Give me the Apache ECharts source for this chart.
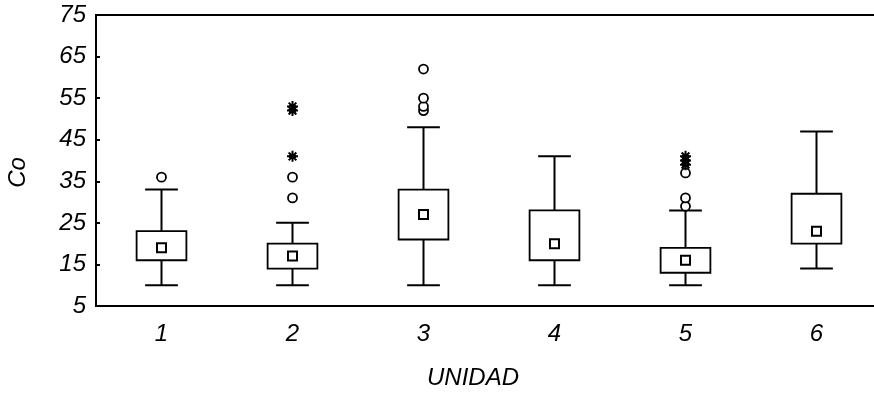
<!DOCTYPE html>
<html>
<head>
<meta charset="utf-8">
<script src="https://cdn.jsdelivr.net/npm/echarts@6/dist/echarts.min.js"></script>
<style>
html,body{margin:0;padding:0;background:#fff;overflow:hidden;}
#chart{width:874px;height:394px;}
</style>
</head>
<body>
<div id="chart"></div>
<script>
// ---- data ----
var categories = ['1', '2', '3', '4', '5', '6'];
var whiskerLow  = [10, 10, 10, 10, 10, 14];
var q1          = [16, 14, 21, 16, 13, 20];
var median      = [19, 17, 27, 20, 16, 23];
var q3          = [23, 20, 33, 28, 19, 32];
var whiskerHigh = [33, 25, 48, 41, 28, 47];
// outliers (circles): [category index, value]
var outliers = [[0, 36], [1, 31], [1, 36], [2, 52], [2, 53], [2, 55], [2, 62], [4, 29], [4, 31], [4, 37]];
// extremes (asterisks): [category index, value]
var extremes = [[1, 41], [1, 52], [1, 53], [4, 39], [4, 40], [4, 41]];
var yTicks = [5, 15, 25, 35, 45, 55, 65, 75];

var FONT = "'Liberation Sans', Arial, sans-serif";

var boxData = categories.map(function (c, i) {
  return [i, whiskerLow[i], q1[i], median[i], q3[i], whiskerHigh[i]];
});
var medianData = categories.map(function (c, i) { return [i, median[i]]; });

function renderBox(params, api) {
  var x = api.value(0);
  var pLow = api.coord([x, api.value(1)]);
  var pQ1 = api.coord([x, api.value(2)]);
  var pQ3 = api.coord([x, api.value(4)]);
  var pHigh = api.coord([x, api.value(5)]);
  var band = api.size([1, 0])[0];
  var bw = band * 0.38;
  var cw = band * 0.25;
  var cx = pQ1[0];
  var ls = {stroke: '#000', lineWidth: 2, fill: null};
  return {
    type: 'group',
    children: [
      {type: 'line', shape: {x1: cx, y1: pLow[1], x2: cx, y2: pQ1[1]}, style: ls},
      {type: 'line', shape: {x1: cx, y1: pQ3[1], x2: cx, y2: pHigh[1]}, style: ls},
      {type: 'line', shape: {x1: cx - cw / 2, y1: pLow[1], x2: cx + cw / 2, y2: pLow[1]}, style: ls},
      {type: 'line', shape: {x1: cx - cw / 2, y1: pHigh[1], x2: cx + cw / 2, y2: pHigh[1]}, style: ls},
      {type: 'rect', shape: {x: cx - bw / 2, y: pQ3[1], width: bw, height: pQ1[1] - pQ3[1]},
       style: {stroke: '#000', lineWidth: 1.8, fill: '#fff'}}
    ]
  };
}

var chart = echarts.init(document.getElementById('chart'), null, {renderer: 'canvas'});
chart.setOption({
  animation: false,
  backgroundColor: '#fff',
  grid: {left: 96, width: 786, top: 15, height: 291, outerBoundsMode: 'none', containLabel: false,
         show: true, borderColor: '#000', borderWidth: 2, backgroundColor: 'transparent'},
  xAxis: [{
    type: 'category',
    data: categories,
    position: 'bottom',
    boundaryGap: true,
    axisLine: {lineStyle: {color: '#000', width: 2}},
    axisTick: {inside: true, length: 4, lineStyle: {color: '#000', width: 2}},
    axisLabel: {color: '#000', fontFamily: FONT, fontStyle: 'italic', fontSize: 24, margin: 16},
    name: 'UNIDAD',
    nameLocation: 'middle',
    nameGap: 60,
    nameTextStyle: {color: '#000', fontFamily: FONT, fontStyle: 'italic', fontSize: 24, padding: [0, 32, 0, 0]},
    splitLine: {show: false}
  }, {
    type: 'category',
    data: categories,
    position: 'top',
    boundaryGap: true,
    axisLine: {lineStyle: {color: '#000', width: 2}},
    axisTick: {inside: true, length: 4, lineStyle: {color: '#000', width: 2}},
    axisLabel: {show: false},
    splitLine: {show: false}
  }],
  yAxis: {
    type: 'value',
    min: 5,
    max: 75,
    axisLine: {show: true, lineStyle: {color: '#000', width: 2}},
    axisTick: {show: true, inside: true, length: 4, customValues: yTicks, lineStyle: {color: '#000', width: 2}},
    axisLabel: {color: '#000', fontFamily: FONT, fontStyle: 'italic', fontSize: 24, margin: 10, customValues: yTicks},
    splitLine: {show: false},
    name: 'Co',
    nameLocation: 'middle',
    nameRotate: 90,
    nameGap: 66,
    nameTextStyle: {color: '#000', fontFamily: FONT, fontStyle: 'italic', fontSize: 24, padding: [0, 24, 0, 0]}
  },
  series: [{
    type: 'custom',
    renderItem: renderBox,
    data: boxData,
    encode: {x: 0, y: [1, 2, 3, 4, 5]},
    z: 2
  }, {
    type: 'scatter',
    data: medianData,
    symbol: 'rect',
    symbolSize: 9,
    itemStyle: {color: '#fff', borderColor: '#000', borderWidth: 2, opacity: 1},
    z: 3
  }, {
    type: 'scatter',
    data: outliers,
    symbol: 'circle',
    symbolSize: 9,
    itemStyle: {color: '#fff', borderColor: '#000', borderWidth: 1.8, opacity: 1},
    z: 3
  }, {
    type: 'scatter',
    data: extremes,
    symbol: 'path://M0,5L10,5M5,0L5,10M1.5,1.5L8.5,8.5M8.5,1.5L1.5,8.5M2,3L8,7M2,7L8,3',
    symbolSize: 11,
    itemStyle: {color: 'none', borderColor: '#000', borderWidth: 2, opacity: 1},
    z: 4
  }]
});
</script>
</body>
</html>
